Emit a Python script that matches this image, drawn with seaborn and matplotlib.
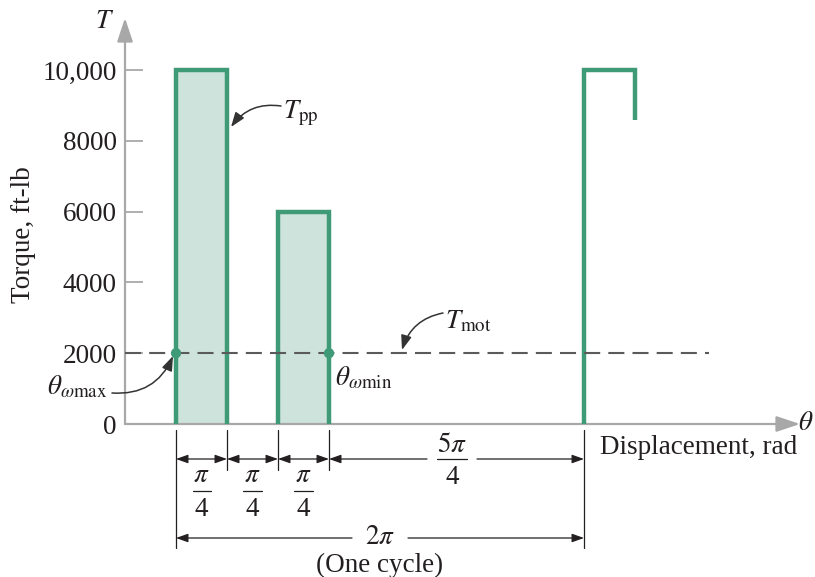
import numpy as np
import pandas as pd
import matplotlib
matplotlib.use("Agg")
import matplotlib.pyplot as plt
import seaborn as sns

# One cycle of the punch-press torque demand, split into angular segments
segment_widths = [np.pi / 4, np.pi / 4, np.pi / 4, 5 * np.pi / 4]
segment_torque = [10000, 0, 6000, 0]
segment_numerators = [r"\pi", r"\pi", r"\pi", r"5\pi"]
segment_denominators = ["4", "4", "4", "4"]
cycle_label = r"$2\pi$"
cycle_note = "(One cycle)"
motor_torque = 2000
# Start of the next cycle (drawn until the trace is cut off)
next_cycle_width = np.pi / 4
next_cycle_torque = [10000, 8600]
ytick_values = [0, 2000, 4000, 6000, 8000, 10000]
ytick_labels = ["0", "2000", "4000", "6000", "8000", "10,000"]

GREEN = "#3f9a78"
FILL = "#cde3db"
AXIS_GREY = "#a8a8a8"
INK = "#231f20"
DASH = "#5a5a5a"

sns.set_theme(style="white")
plt.rcParams["font.family"] = ["Liberation Serif", "DejaVu Serif"]
plt.rcParams["mathtext.fontset"] = "stix"
FS = 19.5

W, H = 815, 577
fig = plt.figure(figsize=(W / 100, H / 100), dpi=100)
ax = fig.add_axes([125 / W, 153 / H, 675 / W, 406 / H])

px_per_rad = 408 / (2 * np.pi)
px_per_unit = 354 / 10000
x_min = -np.pi / 4
ax.set_xlim(x_min, x_min + 675 / px_per_rad)
ax.set_ylim(0, 406 / px_per_unit)
for s in ax.spines.values():
    s.set_visible(False)
ax.set_xticks([])
ax.set_yticks(ytick_values, ytick_labels)
ax.tick_params(axis="y", direction="in", length=13, width=1.3, color=AXIS_GREY,
               labelcolor=INK, labelsize=FS, pad=6, left=True)


def at(px, py):
    """Figure pixel position (top-left origin) -> data coordinates."""
    return ax.transData.inverted().transform((px, H - py))


x0, x1 = ax.get_xlim()
y0, y1 = ax.get_ylim()
axis_arrow = dict(arrowstyle="-|>,head_length=0.9,head_width=0.3", color=AXIS_GREY,
                  lw=1.6, mutation_scale=16, shrinkA=0, shrinkB=0)
ax.annotate("", xy=(x1, 0), xytext=(x0, 0), arrowprops=axis_arrow,
            annotation_clip=False, zorder=2)
ax.annotate("", xy=(x0, y1), xytext=(x0, 0), arrowprops=axis_arrow,
            annotation_clip=False, zorder=2)

edges = np.concatenate([[0.0], np.cumsum(segment_widths)])

# Torque pulses: filled rectangles with open bottoms
for a, b, t in zip(edges[:-1], edges[1:], segment_torque):
    if t <= 0:
        continue
    ax.fill_between([a, b], 0, t, color=FILL, lw=0, zorder=1)
    outline = pd.DataFrame({"theta": [a, a, b, b], "torque": [0, t, t, 0]})
    sns.lineplot(data=outline, x="theta", y="torque", sort=False, estimator=None,
                 color=GREEN, lw=3.2, ax=ax, zorder=3,
                 solid_joinstyle="miter", solid_capstyle="butt")

start = edges[-1]
nxt = pd.DataFrame({"theta": [start, start, start + next_cycle_width, start + next_cycle_width],
                    "torque": [0, next_cycle_torque[0], next_cycle_torque[0], next_cycle_torque[1]]})
sns.lineplot(data=nxt, x="theta", y="torque", sort=False, estimator=None,
             color=GREEN, lw=3.2, ax=ax, zorder=3,
             solid_joinstyle="miter", solid_capstyle="butt")

# Motor torque level
motor = pd.DataFrame({"theta": [x_min, at(709, 0)[0]], "torque": [motor_torque] * 2})
sns.lineplot(data=motor, x="theta", y="torque", color=DASH, lw=1.5, ax=ax, zorder=4,
             linestyle=(0, (7.7, 3.9)))

# Crossing points of the demand with the motor torque
crossings = pd.DataFrame({"theta": [edges[0], edges[3]], "torque": [motor_torque] * 2})
sns.scatterplot(data=crossings, x="theta", y="torque", color=GREEN, s=55,
                edgecolor="none", ax=ax, zorder=5)

ax.set_xlabel("")
ax.set_ylabel("")

# Axis labels
ax.text(*at(105, 22), r"$T$", fontsize=FS, ha="center", va="center", color=INK)
ax.text(*at(813, 424), r"$\theta$", fontsize=FS, ha="right", va="center", color=INK)
ax.text(*at(23, 235), "Torque, ft-lb", fontsize=FS, rotation=90,
        ha="center", va="center", color=INK)
ax.text(*at(600, 447), "Displacement, rad", fontsize=FS, ha="left", va="center",
        color=INK)

# Callouts
curve = dict(arrowstyle="-|>,head_length=0.55,head_width=0.2", color="#333333",
             lw=1.1, mutation_scale=16, shrinkA=0, shrinkB=0)
ax.text(*at(283, 113), r"$T_{\mathrm{pp}}$", fontsize=FS, ha="left", va="center",
        color=INK)
ax.annotate("", xy=at(231, 127), xytext=at(281, 106),
            arrowprops=dict(curve, connectionstyle="arc3,rad=0.3"), annotation_clip=False)
ax.text(*at(445, 322), r"$T_{\mathrm{mot}}$", fontsize=FS, ha="left", va="center",
        color=INK)
ax.annotate("", xy=at(402, 350), xytext=at(443, 313),
            arrowprops=dict(curve, connectionstyle="arc3,rad=0.3"), annotation_clip=False)
ax.text(*at(335, 378), r"$\theta_{\omega\mathrm{min}}$", fontsize=FS, ha="left",
        va="center", color=INK)
ax.text(*at(47, 387), r"$\theta_{\omega\mathrm{max}}$", fontsize=FS, ha="left",
        va="center", color=INK)
ax.annotate("", xy=at(173, 356), xytext=at(112, 393),
            arrowprops=dict(curve, connectionstyle="arc3,rad=0.35"), annotation_clip=False)

# Dimension lines below the axis
y_top = at(0, 430)[1]
y_short = at(0, 470)[1]
y_long = at(0, 548)[1]
y_row1 = at(0, 459)[1]
y_row2 = at(0, 538)[1]
dim_kw = dict(color=INK, lw=0.9, clip_on=False, zorder=3)
for i, e in enumerate(edges):
    bottom = y_long if i in (0, len(edges) - 1) else y_short
    ax.plot([e, e], [y_top, bottom], **dim_kw)

head = "head_length=0.45,head_width=0.16"
dim_arrow = dict(color=INK, lw=0.9, mutation_scale=16, shrinkA=0, shrinkB=0)


def dim(xa, xb, y, style):
    ax.annotate("", xy=(xb, y), xytext=(xa, y),
                arrowprops=dict(dim_arrow, arrowstyle=f"{style},{head}"),
                annotation_clip=False)


def fraction(xc, y_num, y_bar, y_den, num, den, half):
    ax.text(xc, y_num, f"${num}$", fontsize=FS, ha="center", va="center", color=INK)
    ax.plot([xc - half, xc + half], [y_bar, y_bar], **dim_kw)
    ax.text(xc, y_den, den, fontsize=FS, ha="center", va="center", color=INK)


fy_num, fy_bar, fy_den = at(0, 476)[1], at(0, 491)[1], at(0, 509)[1]
for a, b, num, den in zip(edges[:3], edges[1:4], segment_numerators[:3],
                          segment_denominators[:3]):
    dim(a, b, y_row1, "<|-|>")
    fraction((a + b) / 2, fy_num, fy_bar, fy_den, num, den, 9 / px_per_rad)

# Long segment: label sits in a gap of the dimension line
a, b = edges[3], edges[4]
xc = at(452, 0)[0]
gap = 25 / px_per_rad
dim(xc - gap, a, y_row1, "-|>")
dim(xc + gap, b, y_row1, "-|>")
fraction(xc, at(0, 446)[1], y_row1, at(0, 478)[1], segment_numerators[3],
         segment_denominators[3], 15 / px_per_rad)

# Full cycle
xc2 = at(380, 0)[0]
gap2 = 28 / px_per_rad
dim(xc2 - gap2, edges[0], y_row2, "-|>")
dim(xc2 + gap2, edges[-1], y_row2, "-|>")
ax.text(xc2, y_row2, cycle_label, fontsize=FS, ha="center", va="center", color=INK)
ax.text(*at(380, 565), cycle_note, fontsize=FS, ha="center", va="center", color=INK)

fig.savefig("out.png", dpi=100)
